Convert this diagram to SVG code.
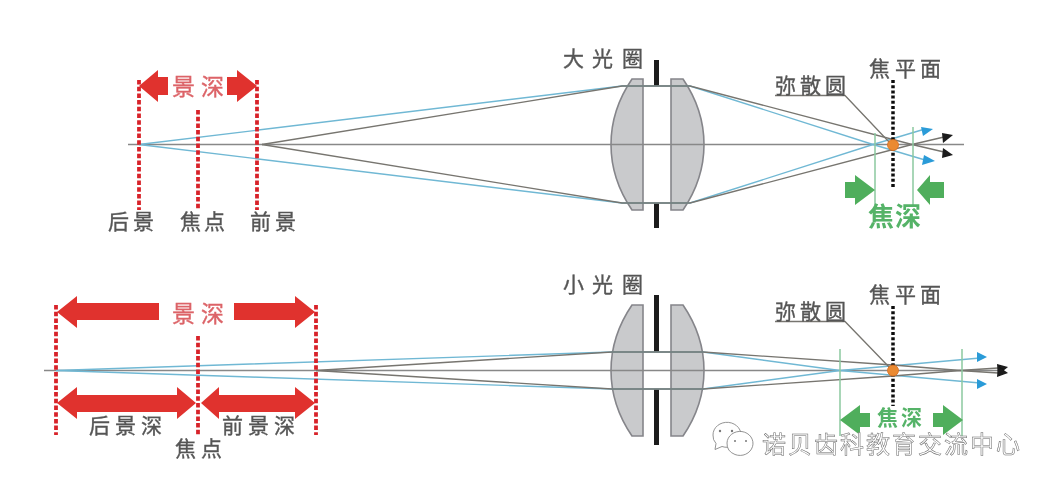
<svg xmlns="http://www.w3.org/2000/svg" width="1054" height="488" viewBox="0 0 1054 488">
<defs>
<style>
text{font-family:"Noto Sans CJK SC","Noto Sans",sans-serif}
.lab{font-size:21px;fill:#555;stroke:#555;stroke-width:.35px}
.red{font-size:23px;fill:#dc6468;stroke:#dc6468;stroke-width:.35px}
.grn{font-size:26px;fill:#55b368;font-weight:700}
.grs{font-size:21px;fill:#55b368;font-weight:700}
.wm{font-size:24px;fill:#fff;stroke:#666;stroke-width:.5px}
.rd{stroke:#d8232a;stroke-width:3.8;stroke-dasharray:4.500 2.200;fill:none}
.bd{stroke:#111;stroke-width:3.5;stroke-dasharray:3 2.200;fill:none}
.ax{stroke:#888;stroke-width:1.6;fill:none}
.gr{stroke:#77756f;stroke-width:1.3;fill:none}
.bl{stroke:#70b8d4;stroke-width:1.4;fill:none}
.gl{stroke:#8cc9a0;stroke-width:1.5;fill:none}
.ap{fill:#1c1c1c}
.lens{fill:#c9cacc;stroke:#85858a;stroke-width:1.6}
.ra{fill:#e0322f}
.ga{fill:#4fae5c}
.ba{fill:#2a9bd8}
.ka{fill:#1a1a1a}
.dot{fill:#ea8a33;stroke:#d86d20;stroke-width:.8}
</style>
<filter id="soft" x="-2%" y="-2%" width="104%" height="104%"><feGaussianBlur stdDeviation="0.45"/></filter>
</defs>
<rect width="1054" height="488" fill="#fff"/>
<g filter="url(#soft)">
<g id="lens-top">
<path class="lens" d="M643 79H632C604 120 604 169 632 210H643Z"/>
<path class="lens" d="M671 79H683C711 120 711 169 683 210H671Z"/>
<rect class="ap" x="654" y="60" width="5" height="26"/>
<rect class="ap" x="654" y="203" width="5" height="25"/>
</g>
<g id="lens-bottom">
<path class="lens" d="M643 305H632C604 346 604 395 632 436H643Z"/>
<path class="lens" d="M671 305H683C711 346 711 395 683 436H671Z"/>
<rect class="ap" x="654" y="295" width="5" height="57"/>
<rect class="ap" x="654" y="389" width="5" height="56"/>
</g>
<g id="connectors">
<path class="ax" d="M128 144.500H964"/>
<path class="bl" d="M139 144.500L622 86H690L873 144.500L925 160"/>
<path class="bl" d="M139 144.500L622 203H690L873 144.500L925 129"/>
<path class="gr" d="M262 144.500L622 86H690L912 144.500L944 152"/>
<path class="gr" d="M262 144.500L622 203H690L912 144.500L944 137"/>
<path class="ax" d="M44 370.500H1003"/>
<path class="bl" d="M56 370.500L612 352H703L840 370.500L980 383"/>
<path class="bl" d="M56 370.500L612 389H703L840 370.500L980 358"/>
<path class="gr" d="M316 370.500L612 352H703L893 365L960 370.500L998 373"/>
<path class="gr" d="M316 370.500L612 389H703L893 376L960 370.500L998 368"/>
<path class="gr" d="M775 95.500H845L890 143"/>
<path class="gr" d="M775 321.500H845L890 368"/>
<path class="gl" d="M875 133V205M913 127V205"/>
<path class="gl" d="M840 349V436M962 349V436"/>
<path class="rd" d="M139 80V210M198 110V210M257 80V210"/>
<path class="rd" d="M56 305V435M198 336V435M316 305V435"/>
<path class="bd" d="M893 80V187"/>
<path class="bd" d="M893 306V406"/>
</g>
<g id="tips">
<path class="ba" d="M933 129L923 136L921 127Z"/>
<path class="ba" d="M935 161L922 165L924 155Z"/>
<path class="ka" d="M953 135L943 143L942 133Z"/>
<path class="ka" d="M953 155L942 158L943 148Z"/>
<path class="ba" d="M987 357L977 362L977 352Z"/>
<path class="ba" d="M987 384L977 389L977 379Z"/>
<path class="ka" d="M1008 367L998 375L997 364Z"/>
<path class="ka" d="M1008 373L997 377L998 366Z"/>
</g>
<g id="dof-arrows">
<path class="ra" d="M139 86L158 70V77H168V95H158V102Z"/>
<path class="ra" d="M257 86L237 70V77H227V95H237V102Z"/>
<path class="ra" d="M57 312L77 296V303H159V320H77V328Z"/>
<path class="ra" d="M315 312L295 296V303H234V320H295V328Z"/>
<path class="ra" d="M57 403L77 387V395H177V387L196 403L177 419V412H77V419Z"/>
<path class="ra" d="M201 403L219 387V395H295V387L315 403L295 419V412H219V419Z"/>
</g>
<g id="focus-arrows">
<path class="ga" d="M875 190L855 175V182H845V198H855V205Z"/>
<path class="ga" d="M917 190L930 175V182H944V198H930V205Z"/>
<path class="ga" d="M840 420L860 405V413H870V427H860V435Z"/>
<path class="ga" d="M963 420L943 405V413H933V427H943V435Z"/>
</g>
<g id="coc-top"><circle class="dot" cx="893" cy="145" r="5.500"/></g>
<g id="coc-bottom"><circle class="dot" cx="893" cy="370.500" r="5.500"/></g>
<g id="labels">
<text class="red" x="172 201" y="95">景深</text>
<text class="lab" x="108 133" y="229">后景</text>
<text class="lab" x="180 204" y="229">焦点</text>
<text class="lab" x="250 275" y="229">前景</text>
<text class="lab" x="563 592 622" y="66">大光圈</text>
<text class="lab" x="775 800 825" y="93">弥散圆</text>
<text class="lab" x="869 895 920" y="76">焦平面</text>
<text class="grn" x="868 895" y="226">焦深</text>
<text class="red" x="172 201" y="322">景深</text>
<text class="lab" x="89 115 141" y="433">后景深</text>
<text class="lab" x="222 248 274" y="433">前景深</text>
<text class="lab" x="175 201" y="456">焦点</text>
<text class="lab" x="563 592 622" y="292">小光圈</text>
<text class="lab" x="775 800 825" y="319">弥散圆</text>
<text class="lab" x="869 895 920" y="302">焦平面</text>
<text class="grs" x="877 901" y="425">焦深</text>
</g>
</g>
<g id="watermark" opacity=".99">
<g fill="#fff" stroke="#777" stroke-width=".8">
<path d="M713 435a14 12.500 0 1 1 9 11.500l-7 3 1-6a13 12 0 0 1-3-8.500Z"/>
<path d="M727 443a13 12 0 1 1 8 11.500a13 12 0 0 1-8-11.500Z"/>
</g>
<g fill="#777"><circle cx="720" cy="431" r="1.200"/><circle cx="732" cy="431" r="1.200"/><circle cx="735" cy="441" r="1"/><circle cx="746" cy="441" r="1"/></g>
<text class="wm" x="762" y="453" textLength="258">诺贝齿科教育交流中心</text>
</g>
</svg>
